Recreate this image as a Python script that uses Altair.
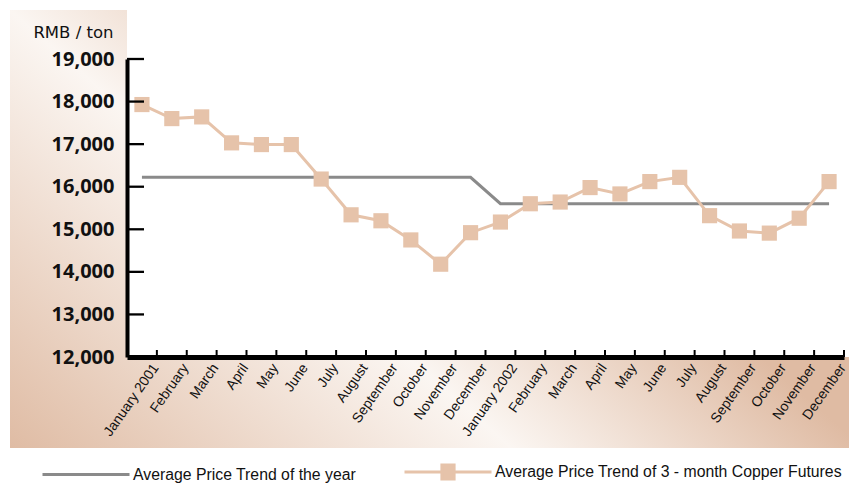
import altair as alt
import pandas as pd

# ---- data ----
month_labels = ["January 2001", "February", "March", "April", "May", "June",
                "July", "August", "September", "October", "November", "December",
                "January 2002", "February", "March", "April", "May", "June",
                "July", "August", "September", "October", "November", "December"]
copper_futures = [17930, 17600, 17640, 17030, 16990, 16990, 16180, 15340, 15200, 14750, 14180, 14920,
                  15170, 15600, 15640, 15980, 15830, 16120, 16220, 15320, 14960, 14910, 15260, 16120]
annual_average = [16220, 16220, 16220, 16220, 16220, 16220, 16220, 16220, 16220, 16220, 16220, 16220,
                  15600, 15600, 15600, 15600, 15600, 15600, 15600, 15600, 15600, 15600, 15600, 15600]
y_tick_values = [12000, 13000, 14000, 15000, 16000, 17000, 18000, 19000]
series_names = ["Average Price Trend of the year",
                "Average Price Trend of 3 - month Copper Futures"]

GRAY = "#8a8a8a"
COPPER = "#e6c3aa"

rows = []
for i, v in enumerate(annual_average):
    rows.append({"idx": i, "series": series_names[0], "value": v})
for i, v in enumerate(copper_futures):
    rows.append({"idx": i, "series": series_names[1], "value": v})
df = pd.DataFrame(rows)
df_copper = df[df["series"] == series_names[1]]
df_ticks = pd.DataFrame({"value": y_tick_values[1:]})
df_xticks = pd.DataFrame({"idx": list(range(len(month_labels)))})
df_one = pd.DataFrame({"a": [0]})

W, H = 717, 298
label_js = "[" + ",".join("'" + m + "'" for m in month_labels) + "]"

xscale = alt.Scale(type="band", paddingInner=0, paddingOuter=0)
yscale = alt.Scale(domain=[12000, 19000], nice=False, zero=False)

x_axis = alt.Axis(title=None, labelExpr=label_js + "[datum.value]", labelAngle=-55,
                  labelAlign="right", labelBaseline="middle", labelPadding=8, labelOffset=14,
                  labelFont="Liberation Sans", labelFontSize=14, labelColor="#111111",
                  ticks=False, domainColor="black", domainWidth=5,
                  labelOverlap=False, zindex=1)
y_axis = alt.Axis(title="RMB / ton", titleAngle=0, titleAlign="right", titleBaseline="alphabetic",
                  titleX=-14, titleY=-22, titleFont="DejaVu Sans", titleFontSize=16.5,
                  titleFontWeight="normal", titleColor="#111111",
                  values=y_tick_values, format=",d", labelFont="Open Sans", labelFontWeight="bold",
                  labelFontSize=20, labelPadding=13, labelColor="#111111",
                  ticks=False, grid=False, domainColor="black", domainWidth=4, zindex=1)

grad = alt.LinearGradient(
    gradient="linear", x1=-0.446, y1=0.267, x2=0.309, y2=-0.185,
    stops=[alt.GradientStop(color="#dfbba3", offset=0),
           alt.GradientStop(color="#fbf6f2", offset=0.59),
           alt.GradientStop(color="#dfbba3", offset=1)])

# legend-only layer, drawn first so the background covers its marks
path_line = "M-1,0L1,0"
path_combo = "M-1,0L1,0M-0.14,-0.16L0.14,-0.16L0.14,0.16L-0.14,0.16Z"
leg = alt.Legend(title=None, orient="none", legendX=-86, legendY=368, direction="horizontal",
                 symbolSize=7569, symbolStrokeWidth=3, symbolOpacity=1,
                 labelFont="Liberation Sans", labelFontSize=15.8, labelColor="#111111",
                 labelOffset=2, columnPadding=41, padding=0, labelLimit=500, zindex=1)
legend_layer = alt.Chart(df).mark_point(filled=False, strokeWidth=3, size=20).encode(
    x=alt.X("idx:O", scale=xscale, bandPosition=0.5),
    y=alt.Y("value:Q", scale=yscale),
    shape=alt.Shape("series:N", scale=alt.Scale(domain=series_names, range=[path_line, path_combo]), legend=leg),
    stroke=alt.Stroke("series:N", scale=alt.Scale(domain=series_names, range=[GRAY, COPPER]), legend=leg),
    fill=alt.Fill("series:N", scale=alt.Scale(domain=series_names, range=[GRAY, COPPER]), legend=leg))

bg = alt.Chart(df_one).mark_rect(fill=grad).encode(
    x=alt.value(-117), x2=alt.value(722), y=alt.value(-49), y2=alt.value(389))
white = alt.Chart(df_one).mark_rect(fill="white").encode(
    x=alt.value(0), x2=alt.value(722), y=alt.value(-59), y2=alt.value(H))

lines = alt.Chart(df).mark_line(strokeWidth=3).encode(
    x=alt.X("idx:O", scale=xscale, axis=x_axis, bandPosition=0.5),
    y=alt.Y("value:Q", scale=yscale, axis=y_axis),
    color=alt.Color("series:N", scale=alt.Scale(domain=series_names, range=[GRAY, COPPER]), legend=None),
    detail="series:N")

points = alt.Chart(df_copper).mark_point(shape="square", filled=True, size=230, opacity=1, color=COPPER).encode(
    x=alt.X("idx:O", scale=xscale, bandPosition=0.5),
    y=alt.Y("value:Q", scale=yscale))

yticks = alt.Chart(df_ticks).mark_rule(color="black", strokeWidth=2.3).encode(
    y=alt.Y("value:Q", scale=yscale), x=alt.value(0), x2=alt.value(17))

xticks = alt.Chart(df_xticks).mark_rule(color="black", strokeWidth=2).encode(
    x=alt.X("idx:O", scale=xscale, bandPosition=1), y=alt.value(H - 7), y2=alt.value(H))

chart = alt.layer(legend_layer, bg, white, lines, points, yticks, xticks).properties(
    width=W, height=H,
    autosize=alt.AutoSizeParams(type="none"),
    padding={"left": 127, "top": 59, "right": 5, "bottom": 128},
    background="white",
).configure_view(stroke=None)

chart.save("out.html", embed_options={"renderer": "svg", "actions": False})
